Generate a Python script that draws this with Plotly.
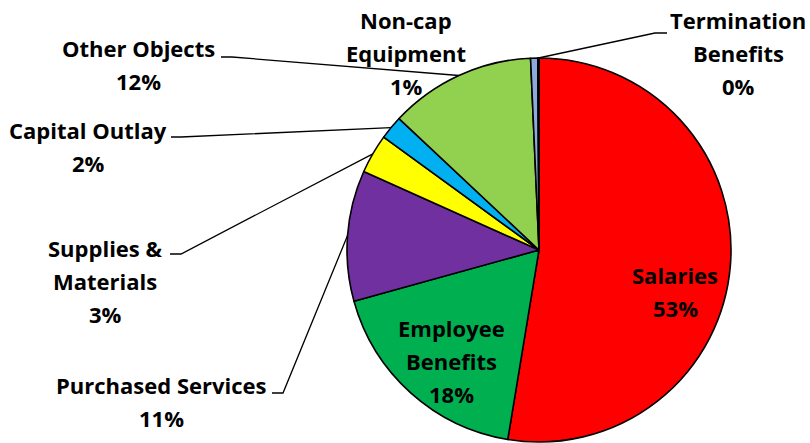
import math
import plotly.graph_objects as go

# Budget shares by expenditure object (percent of total)
categories = [
    "Salaries",
    "Employee Benefits",
    "Purchased Services",
    "Supplies & Materials",
    "Capital Outlay",
    "Other Objects",
    "Non-cap Equipment",
    "Termination Benefits",
]
values = [52.6, 18.1, 11.0, 3.3, 2.0, 12.3, 0.6, 0.1]
colors = ["#FF0000", "#00B050", "#7030A0", "#FFFF00",
          "#00B0F0", "#92D050", "#8EA9DB", "#2F5597"]

# How each category name is broken over lines in its label
wrapped = {
    "Employee Benefits": ["Employee", "Benefits"],
    "Supplies & Materials": ["Supplies &", "Materials"],
    "Non-cap Equipment": ["Non-cap", "Equipment"],
    "Termination Benefits": ["Termination", "Benefits"],
}

W, H = 810, 443
cx, cy, r = 539, 250, 192          # pie centre and radius in pixels
LINE = 33                          # label line spacing in pixels
FONT = dict(family="'Open Sans', 'Noto Sans', sans-serif", size=22,
            color="#000000")

# label block anchor: (x centre, y of first line)
label_pos = {
    "Salaries": (675, 275),
    "Employee Benefits": (451, 328),
    "Purchased Services": (161, 385),
    "Supplies & Materials": (105, 248),
    "Capital Outlay": (88, 130),
    "Other Objects": (138, 48),
    "Non-cap Equipment": (406, 20),
    "Termination Benefits": (738, 20),
}

# horizontal stub of each leader line: (start, end), end joins the slice
leader_stub = {
    "Other Objects": ((221, 57), (232, 57)),
    "Capital Outlay": ((171, 137), (181, 137)),
    "Supplies & Materials": ((170, 254), (181, 254)),
    "Purchased Services": ((272, 393), (283, 393)),
    "Termination Benefits": ((667, 33), (655, 33)),
}

total = sum(values)
pct = [v / total for v in values]

fig = go.Figure()

fig.add_trace(go.Pie(
    labels=categories,
    values=values,
    sort=False,
    direction="clockwise",
    rotation=0,
    marker=dict(colors=colors, line=dict(color="#000000", width=1.6)),
    textinfo="none",
    hoverinfo="label+percent",
    showlegend=False,
    domain=dict(x=[(cx - r) / W, (cx + r) / W],
                y=[1 - (cy + r) / H, 1 - (cy - r) / H]),
))

# outer-edge point at the middle angle of each slice
edge = {}
cum = 0.0
for name, p in zip(categories, pct):
    th = 2 * math.pi * (cum + p / 2)
    edge[name] = (cx + r * math.sin(th), cy - r * math.cos(th))
    cum += p

for name, (a, b) in leader_stub.items():
    ex, ey = edge[name]
    fig.add_trace(go.Scatter(
        x=[a[0], b[0], ex], y=[a[1], b[1], ey],
        mode="lines", line=dict(color="#000000", width=1.3),
        hoverinfo="skip", showlegend=False,
        xaxis="x", yaxis="y",
    ))

annotations = []
for name, p in zip(categories, pct):
    x0, y0 = label_pos[name]
    lines = wrapped.get(name, [name]) + [f"{round(p * 100):.0f}%"]
    for i, t in enumerate(lines):
        annotations.append(dict(
            x=x0, y=y0 + i * LINE, xref="x", yref="y",
            text=f"<b>{t}</b>", showarrow=False,
            xanchor="center", yanchor="middle", font=FONT,
        ))

fig.update_layout(
    width=W, height=H,
    margin=dict(l=0, r=0, t=0, b=0),
    paper_bgcolor="#FFFFFF", plot_bgcolor="rgba(0,0,0,0)",
    xaxis=dict(range=[0, W], visible=False, fixedrange=True),
    yaxis=dict(range=[H, 0], visible=False, fixedrange=True),
    annotations=annotations,
)

fig.write_html("out.html")
